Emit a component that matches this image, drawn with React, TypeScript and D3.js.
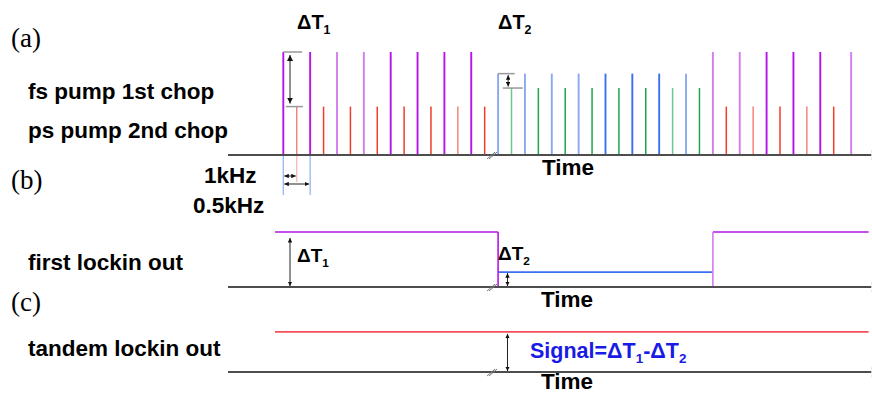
import React from 'react';
import * as d3 from 'd3';

const W = 872;
const H = 394;

// (a) pulse train: time index of each pulse and which beam it belongs to
const pulseTime = [
  0, 1, 2, 3, 4, 5, 6, 7, 8, 9, 10, 11, 12, 13, 14, 15,
  16, 17, 18, 19, 20, 21, 22, 23, 24, 25, 26, 27, 28, 29, 30, 31,
  32, 33, 34, 35, 36, 37, 38, 39, 40, 41, 42.3,
];
const pulseType = [
  'fs', 'ps', 'fs', 'ps', 'fs', 'ps', 'fs', 'ps', 'fs', 'ps', 'fs', 'ps', 'fs', 'ps', 'fs', 'ps',
  'fsB', 'psB', 'fsB', 'psB', 'fsB', 'psB', 'fsB', 'psB', 'fsB', 'psB', 'fsB', 'psB', 'fsB', 'psB', 'fsB', 'psB',
  'fs', 'ps', 'fs', 'ps', 'fs', 'ps', 'fs', 'ps', 'fs', 'ps', 'fs',
];
const pulseLevel: Record<string, number> = { fs: 1, ps: 0.47, fsB: 0.79, psB: 0.65 };

// (b) first lock-in output: steps
const lockinStart = [-0.62, 16, 32];
const lockinEnd = [16, 32, 43.6];
const lockinLevel = [1, 0.27, 1];
const lockinBeam = ['fs', 'fsB', 'fs'];

// (c) tandem lock-in output
const tandemSpan = [-0.62, 43.6];
const tandemLevel = [0.73];

// time axis extent and break position
const axisSpan = [-4.12, 43.8];
const breakAt = 15.55;

const dark: Record<string, string> = { fs: '#b414e6', ps: '#f03c28', fsB: '#3c6ef0', psB: '#1ea550' };
const light: Record<string, string> = { fs: '#d27cf0', ps: '#f4857a', fsB: '#8aa8f2', psB: '#6cc88c' };
const lightIdx = new Set([1, 4, 6, 13, 16, 17, 18, 20, 22, 29, 30, 32, 34, 35, 39, 42]);

const SANS = '"Liberation Sans", Arial, sans-serif';
const SERIF = '"Liberation Serif", "Times New Roman", serif';

const x = d3.scaleLinear().domain([0, 41]).range([283.3, 833.7]);
const yA = d3.scaleLinear().domain([0, 1]).range([155, 52]);
const yB = d3.scaleLinear().domain([0, 1]).range([287, 232]);
const yC = d3.scaleLinear().domain([0, 1]).range([372, 317]);

function Axis({ y }: { y: number }) {
  const x0 = x(axisSpan[0]);
  const x1 = x(axisSpan[1]);
  const bx = x(breakAt);
  return (
    <g>
      <line x1={x0} x2={x1} y1={y} y2={y} stroke="#4d4d4d" strokeWidth={1.8} />
      <line x1={bx - 5} y1={y + 4} x2={bx + 3} y2={y - 3} stroke="#777" strokeWidth={1} />
      <line x1={bx - 3} y1={y + 4} x2={bx + 5} y2={y - 3} stroke="#777" strokeWidth={1} />
      <line x1={x1 + 1} x2={x1 + 1} y1={y - 5} y2={y - 2} stroke="#999" strokeWidth={1} />
      <line x1={x1 + 1} x2={x1 + 1} y1={y + 3} y2={y + 5} stroke="#999" strokeWidth={1} />
    </g>
  );
}

function DT({ px, py, sub, size, color = '#000' }: { px: number; py: number; sub: string; size: number; color?: string }) {
  return (
    <text x={px} y={py} fontFamily={SANS} fontWeight="bold" fontSize={size} fill={color}>
      ΔT
      <tspan fontSize={size * 0.62} dy={size * 0.26}>{sub}</tspan>
    </text>
  );
}

function Arrow({ xx, y1, y2, small = false }: { xx: number; y1: number; y2: number; small?: boolean }) {
  const m = small ? 'url(#ahS)' : 'url(#ahL)';
  return <line x1={xx} x2={xx} y1={y1} y2={y2} stroke="#222" strokeWidth={1} markerStart={m} markerEnd={m} />;
}

function HArrow({ x1, x2, yy }: { x1: number; x2: number; yy: number }) {
  return <line x1={x1} x2={x2} y1={yy} y2={yy} stroke="#222" strokeWidth={1} markerStart="url(#ahS)" markerEnd="url(#ahS)" />;
}

const label = (t: string, px: number, py: number) => (
  <text x={px} y={py} fontFamily={SANS} fontWeight="bold" fontSize={22.5} fill="#000">{t}</text>
);
const panel = (t: string, px: number, py: number) => (
  <text x={px} y={py} fontFamily={SERIF} fontSize={27} fill="#000">{t}</text>
);

export default function App() {
  const stepLine = d3.line<[number, number]>().x(d => x(d[0])).y(d => d[1]);
  return (
    <svg width={W} height={H} style={{ position: 'absolute', left: 0, top: 0, background: '#fff' }}>
      <defs>
        <marker id="ahL" viewBox="0 0 10 10" refX={10} refY={5} markerWidth={6} markerHeight={6}
          orient="auto-start-reverse" markerUnits="userSpaceOnUse">
          <path d="M0,0 L10,5 L0,10 z" fill="#111" />
        </marker>
        <marker id="ahS" viewBox="0 0 10 10" refX={10} refY={5} markerWidth={4.5} markerHeight={4.5}
          orient="auto-start-reverse" markerUnits="userSpaceOnUse">
          <path d="M0,0 L10,5 L0,10 z" fill="#111" />
        </marker>
      </defs>

      {/* panel letters and row labels */}
      {panel('(a)', 11, 47)}
      {panel('(b)', 11, 189)}
      {panel('(c)', 11, 311)}
      {label('fs pump 1st chop', 28, 99)}
      {label('ps pump 2nd chop', 28, 138)}
      {label('first lockin out', 28, 270)}
      {label('tandem lockin out', 28, 356)}
      {label('1kHz', 204, 183)}
      {label('0.5kHz', 193, 213)}
      {label('Time', 542, 175)}
      {label('Time', 541, 307)}
      {label('Time', 541, 389)}

      {/* (a) pulse trains */}
      <line x1={x(0)} x2={x(0)} y1={yA(0)} y2={195} stroke="#9ab4f2" strokeWidth={1.3} />
      <line x1={x(2)} x2={x(2)} y1={yA(0)} y2={195} stroke="#9ab4f2" strokeWidth={1.3} />
      <line x1={x(1)} x2={x(1)} y1={yA(0)} y2={182} stroke="#f8b8b0" strokeWidth={1.3} />
      {pulseTime.map((t, i) => {
        const k = pulseType[i];
        return (
          <line key={i} x1={x(t)} x2={x(t)} y1={yA(0)} y2={yA(pulseLevel[k])}
            stroke={lightIdx.has(i) ? light[k] : dark[k]} strokeWidth={k === 'fs' || k === 'fsB' ? 1.9 : 1.5} />
        );
      })}
      <Axis y={yA(0)} />
      <HArrow x1={x(0) + 1} x2={x(1) - 1} yy={176} />
      <HArrow x1={x(0) + 1} x2={x(2) - 1} yy={184} />

      {/* (a) amplitude markers */}
      <line x1={x(0)} x2={x(1.4)} y1={yA(1)} y2={yA(1)} stroke="#999" strokeWidth={1.5} />
      <line x1={x(0.18)} x2={x(1.47)} y1={yA(pulseLevel.ps)} y2={yA(pulseLevel.ps)} stroke="#999" strokeWidth={1.5} />
      <Arrow xx={x(0.5)} y1={yA(1) + 3} y2={yA(pulseLevel.ps) - 3} />
      <line x1={x(16)} x2={x(17.24)} y1={yA(pulseLevel.fsB)} y2={yA(pulseLevel.fsB)} stroke="#999" strokeWidth={1.5} />
      <line x1={x(16.35)} x2={x(17.84)} y1={yA(pulseLevel.psB)} y2={yA(pulseLevel.psB)} stroke="#999" strokeWidth={1.5} />
      <Arrow xx={x(16.75)} y1={yA(pulseLevel.fsB) + 1.5} y2={yA(pulseLevel.psB) - 1.5} small />
      <DT px={297} py={28.5} sub="1" size={20} />
      <DT px={498} py={28.5} sub="2" size={20} />

      {/* (b) first lock-in output */}
      {lockinStart.map((s, i) => (
        <path key={i} fill="none" stroke={dark[lockinBeam[i]]} strokeWidth={1.6}
          d={stepLine([[s, yB(lockinLevel[i])], [lockinEnd[i], yB(lockinLevel[i])]]) || ''} />
      ))}
      <path fill="none" stroke={dark.fs} strokeWidth={1.6}
        d={stepLine([[lockinStart[1], yB(lockinLevel[0])], [lockinStart[1], yB(0)]]) || ''} />
      <path fill="none" stroke={light.fs} strokeWidth={1.6}
        d={stepLine([[lockinStart[2], yB(0)], [lockinStart[2], yB(lockinLevel[2])]]) || ''} />
      <Axis y={yB(0)} />
      <Arrow xx={x(0.5)} y1={yB(1) + 6} y2={yB(0) - 1} small />
      <Arrow xx={x(16.7)} y1={yB(lockinLevel[1]) + 1} y2={yB(0) - 1} small />
      <DT px={297} py={262} sub="1" size={19} />
      <DT px={498} py={260} sub="2" size={19} />

      {/* (c) tandem lock-in output */}
      <path fill="none" stroke="#f5505a" strokeWidth={1.6}
        d={stepLine([[tandemSpan[0], yC(tandemLevel[0])], [tandemSpan[1], yC(tandemLevel[0])]]) || ''} />
      <Axis y={yC(0)} />
      <Arrow xx={x(16.7)} y1={yC(tandemLevel[0]) + 2} y2={yC(0) - 1} small />
      <text x={530} y={358} fontFamily={SANS} fontWeight="bold" fontSize={21.5} fill="#1a1ae6">
        Signal=ΔT
        <tspan fontSize={13.5} dy={5}>1</tspan>
        <tspan dy={-5}>-ΔT</tspan>
        <tspan fontSize={13.5} dy={5}>2</tspan>
      </text>
    </svg>
  );
}
